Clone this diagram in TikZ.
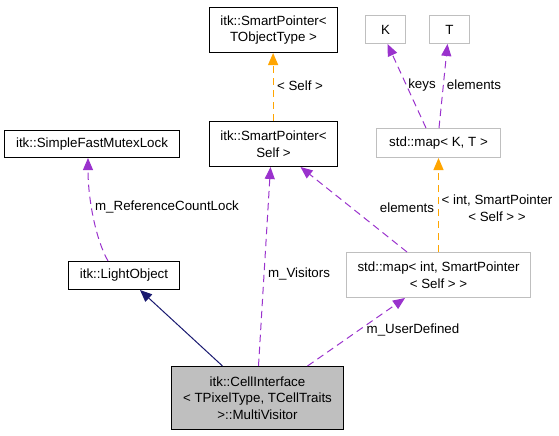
\documentclass[tikz,border=0pt]{standalone}
\usepackage{fontspec}
\setmainfont{Liberation Sans}
\usetikzlibrary{arrows.meta}
\definecolor{dpurple}{HTML}{9A32CD}
\definecolor{dorange}{HTML}{FFA500}
\definecolor{dnavy}{HTML}{191970}
\definecolor{dgray}{HTML}{BFBFBF}
\begin{document}
\begin{tikzpicture}[x=0.75pt,y=-0.75pt,
  every node/.style={font=\fontsize{10pt}{12.4pt}\selectfont, inner sep=0pt, align=center},
  cls/.style={draw=black, line width=0.75pt, rectangle},
  ext/.style={draw=dgray, line width=0.75pt, rectangle},
  cur/.style={draw=black, fill=dgray, line width=0.75pt, rectangle},
  tip/.style={-{Triangle[length=9pt,width=7.5pt]}},
  usage/.style={tip, draw=dpurple, line width=0.75pt, dash pattern=on 5.5pt off 3.5pt},
  templ/.style={tip, draw=dorange, line width=0.9pt, dash pattern=on 5.5pt off 3.5pt},
  inh/.style={tip, draw=dnavy, line width=0.75pt},
  lbl/.style={fill=none}
]
\useasboundingbox (0,0) rectangle (559,435);

\node[cls, minimum width=128pt*0.75, minimum height=45pt*0.75] (spt) at (273.5,30) {itk::SmartPointer\textless\\TObjectType \textgreater};
\node[cls, minimum width=128pt*0.75, minimum height=45pt*0.75] (sps) at (273.5,144) {itk::SmartPointer\textless\\Self \textgreater};
\node[cls, minimum width=175pt*0.75, minimum height=27pt*0.75] (mutex) at (92,144) {itk::SimpleFastMutexLock};
\node[ext, minimum width=40pt*0.75, minimum height=28pt*0.75] (K) at (385.5,29.5) {K};
\node[ext, minimum width=40pt*0.75, minimum height=28pt*0.75] (T) at (449.5,29.5) {T};
\node[ext, minimum width=124pt*0.75, minimum height=29pt*0.75] (mapkt) at (438.5,143) {std::map\textless{} K, T \textgreater};
\node[cls, minimum width=111pt*0.75, minimum height=28pt*0.75] (light) at (124,275.5) {itk::LightObject};
\node[cur, minimum width=172pt*0.75, minimum height=63pt*0.75] (cell) at (257.5,398) {itk::CellInterface\\\textless{} TPixelType, TCellTraits\\\textgreater::MultiVisitor};
\node[ext, minimum width=184pt*0.75, minimum height=45pt*0.75] (mapint) at (438.5,275) {std::map\textless{} int, SmartPointer\\\textless{} Self \textgreater{} \textgreater};

% template instantiation SmartPointer<Self>
\draw[templ] ([xshift=-0.4pt*0.75]sps.north) -- ([xshift=-0.4pt*0.75]spt.south);
\node[lbl] (l1) at (300,86) {\textless{} Self \textgreater};

% m_ReferenceCountLock
\draw[usage] ([xshift=-16pt*0.75]light.north) .. controls (96,240) and (88,200) .. ([xshift=-4pt*0.75]mutex.south);
\node[lbl] (l2) at (167,207) {m\_ReferenceCountLock};

% inheritance
\draw[inh] ([xshift=-35pt*0.75]cell.north) -- ([xshift=16pt*0.75]light.south);

% m_Visitors
\draw[usage] ([xshift=1pt*0.75]cell.north) -- ([xshift=-3pt*0.75]sps.south);
\node[lbl] (l3) at (299,274) {m\_Visitors};

% m_UserDefined
\draw[usage] ([xshift=50pt*0.75]cell.north) -- ([xshift=-33.5pt*0.75]mapint.south);
\node[lbl] (l4) at (413,330) {m\_UserDefined};

% elements (map -> SmartPointer<Self>)
\draw[usage] ([xshift=-31.5pt*0.75]mapint.north) -- ([xshift=27pt*0.75]sps.south);
\node[lbl] (l5) at (407,208) {elements};

% template instantiation map
\draw[templ] (mapint.north) -- (mapkt.south);
\node[lbl] (l6) at (497,208) {\textless{} int, SmartPointer\\\textless{} Self \textgreater{} \textgreater};

% keys, elements
\draw[usage] ([xshift=-12.5pt*0.75]mapkt.north) -- ([xshift=2pt*0.75]K.south);
\node[lbl] (l7) at (422,85) {keys};
\draw[usage] ([xshift=0.5pt*0.75]mapkt.north) -- ([xshift=-2pt*0.75]T.south);
\node[lbl] (l8) at (474,85) {elements};
\end{tikzpicture}
\end{document}
